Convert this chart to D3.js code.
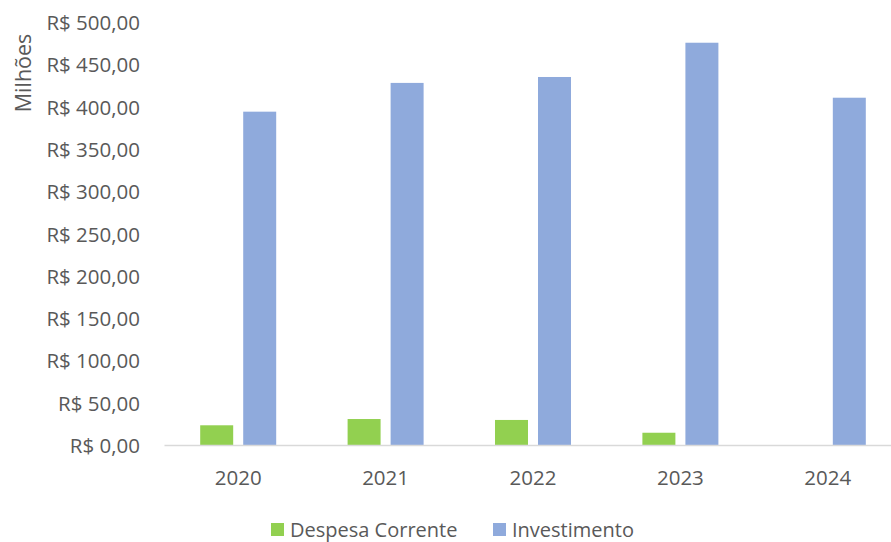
<!DOCTYPE html>
<html>
<head>
<meta charset="utf-8">
<script src="https://cdn.jsdelivr.net/npm/d3@7"></script>
<style>
  body { margin: 0; background: #fff; }
  text { font-family: "Open Sans", "Noto Sans", sans-serif; fill: #595959; }
</style>
</head>
<body>
<div id="graph"></div>
<script>
// data (milhoes de reais)
var anos = ["2020", "2021", "2022", "2023", "2024"];
var series = ["Despesa Corrente", "Investimento"];
var despesaCorrente = [23.3, 30.7, 29.6, 14.5, 0];
var investimento = [394, 428, 435, 475.5, 410.5];
var yTicks = [0, 50, 100, 150, 200, 250, 300, 350, 400, 450, 500];

var color = d3.scaleOrdinal()
    .domain(series)
    .range(["#92d050", "#8faadc"]);

var width = 891, height = 542;
var svg = d3.select("#graph").append("svg")
    .attr("width", width)
    .attr("height", height);

var x0 = d3.scaleBand().domain(anos).range([164.5, 901.5]);
var x1 = d3.scaleBand().domain(series).range([0, 76]).paddingInner(0.233);
var y = d3.scaleLinear().domain([0, 500]).range([445, 22]);

var fmt = function(v) { return "R$ " + d3.format(",.2f")(v).replace(".", "#").replace(/,/g, ".").replace("#", ","); };

// y axis labels (no line, no ticks)
svg.selectAll("ylab")
    .data(yTicks)
    .enter()
    .append("text")
        .attr("x", 140)
        .attr("y", function(d) { return y(d); })
        .attr("text-anchor", "end")
        .attr("dominant-baseline", "central")
        .style("font-size", "20.5px")
        .text(function(d) { return fmt(d); });

svg.append("text")
    .attr("transform", "translate(22,73) rotate(-90)")
    .attr("text-anchor", "middle")
    .attr("dominant-baseline", "central")
    .style("font-size", "21.5px")
    .text("Milhões");

// bars
var rows = anos.map(function(a, i) {
    return { ano: a, vals: [
        { s: series[0], v: despesaCorrente[i] },
        { s: series[1], v: investimento[i] }
    ]};
});

var groupOff = (x0.bandwidth() - 76) / 2;
var g = svg.selectAll("g.ano")
    .data(rows)
    .enter()
    .append("g")
        .attr("class", "ano")
        .attr("transform", function(d) { return "translate(" + (x0(d.ano) + groupOff) + ",0)"; });

g.selectAll("rect")
    .data(function(d) { return d.vals.filter(function(e) { return e.v > 0; }); })
    .enter()
    .append("rect")
        .attr("x", function(d) { return x1(d.s); })
        .attr("y", function(d) { return y(d.v); })
        .attr("width", x1.bandwidth())
        .attr("height", function(d) { return y(0) - y(d.v); })
        .style("fill", function(d) { return color(d.s); });

// x axis line
svg.append("line")
    .attr("x1", x0.range()[0])
    .attr("x2", x0.range()[1])
    .attr("y1", y(0) + 0.5)
    .attr("y2", y(0) + 0.5)
    .style("stroke", "#d9d9d9")
    .style("stroke-width", 1.5);

svg.selectAll("xlab")
    .data(anos)
    .enter()
    .append("text")
        .attr("x", function(d) { return x0(d) + x0.bandwidth() / 2; })
        .attr("y", 477)
        .attr("text-anchor", "middle")
        .attr("dominant-baseline", "central")
        .style("font-size", "20.5px")
        .text(function(d) { return d; });

// legend
var legX = [271, 493];
series.forEach(function(s, i) {
    svg.append("rect")
        .attr("x", legX[i])
        .attr("y", 523)
        .attr("width", 13)
        .attr("height", 13)
        .style("fill", color(s));
    svg.append("text")
        .attr("x", legX[i] + 19)
        .attr("y", 529.5)
        .attr("dominant-baseline", "central")
        .style("font-size", "20px")
        .text(s);
});
</script>
</body>
</html>
